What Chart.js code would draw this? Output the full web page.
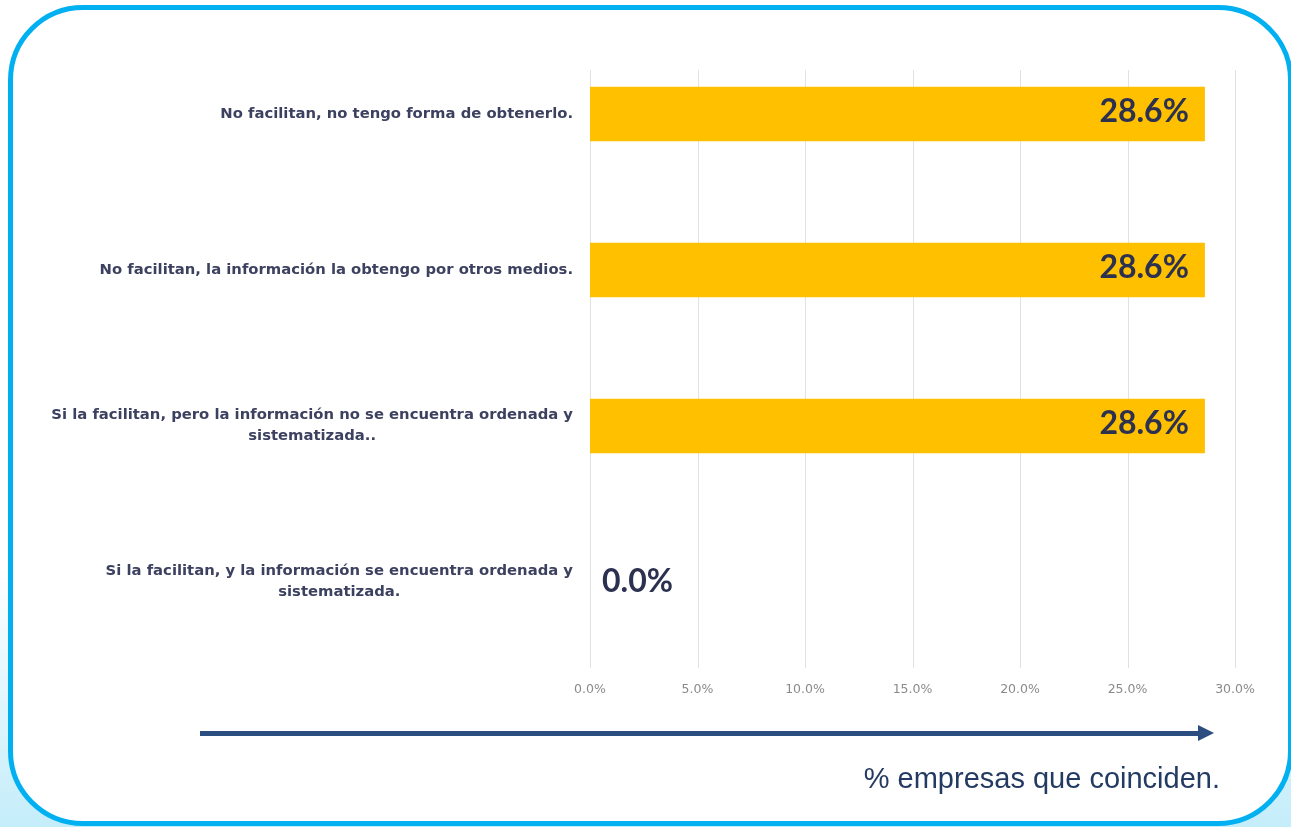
<!DOCTYPE html>
<html lang="es">
<head>
    <meta charset="UTF-8">
    <title>% empresas que coinciden</title>
    <script src="https://cdn.jsdelivr.net/npm/chart.js"></script>
    <style>
        body {
            margin: 0;
            width: 1291px;
            height: 827px;
            overflow: hidden;
            position: relative;
            background: linear-gradient(to bottom, #ffffff 0%, #ffffff 68%, #c4edfa 100%);
        }
        .box {
            position: absolute;
            left: 8px;
            top: 5px;
            width: 1285px;
            height: 821px;
            box-sizing: border-box;
            border: 5px solid #00b0f0;
            border-radius: 75px;
            background: #ffffff;
        }
        #chart {
            position: absolute;
            left: 0;
            top: 0;
        }
        .arrow {
            position: absolute;
            left: 200px;
            top: 731px;
            width: 998px;
            height: 5px;
            background: #2b4d80;
        }
        .arrow:after {
            content: '';
            position: absolute;
            left: 998px;
            top: -6px;
            border-left: 16px solid #2b4d80;
            border-top: 8.5px solid transparent;
            border-bottom: 8.5px solid transparent;
        }
        .caption {
            position: absolute;
            right: 71px;
            top: 764px;
            font: 29px/28px "Liberation Sans", Arial, sans-serif;
            color: #233b62;
        }
    </style>
</head>
<body>
    <div class="box"></div>
    <canvas id="chart" width="1291" height="827"></canvas>
    <div class="arrow"></div>
    <div class="caption">% empresas que coinciden.</div>
    <script>
        // categories (top to bottom) and the share of companies for each one
        const categories = [
            'No facilitan, no tengo forma de obtenerlo.',
            'No facilitan, la información la obtengo por otros medios.',
            ['Si la facilitan, pero la información no se encuentra ordenada y', 'sistematizada..'],
            ['Si la facilitan, y la información se encuentra ordenada y', 'sistematizada.']
        ];
        const percentValues = [28.6, 28.6, 28.6, 0.0];
        const axisMax = 30;
        const axisStep = 5;

        const gridTop = 70;
        const labelColor = '#3d4160';
        const valueColor = '#2c3150';

        // light vertical grid lines, starting a bit below the top of the plot
        const gridPlugin = {
            id: 'gridLines',
            beforeDatasetsDraw(chart) {
                const ctx = chart.ctx;
                const xScale = chart.scales.x;
                ctx.save();
                ctx.strokeStyle = '#e1e1e1';
                ctx.lineWidth = 1;
                xScale.ticks.forEach(t => {
                    const px = Math.round(xScale.getPixelForValue(t.value)) + 0.5;
                    ctx.beginPath();
                    ctx.moveTo(px, gridTop);
                    ctx.lineTo(px, chart.chartArea.bottom + 8);
                    ctx.stroke();
                });
                ctx.restore();
            }
        };

        // category labels: right aligned block, lines centred inside it
        const categoryPlugin = {
            id: 'categoryLabels',
            afterDraw(chart) {
                const ctx = chart.ctx;
                const yScale = chart.scales.y;
                ctx.save();
                ctx.font = 'bold 14.8px "DejaVu Sans", sans-serif';
                ctx.fillStyle = labelColor;
                ctx.textAlign = 'center';
                ctx.textBaseline = 'middle';
                categories.forEach((label, i) => {
                    const lines = Array.isArray(label) ? label : [label];
                    const w = Math.max(...lines.map(l => ctx.measureText(l).width));
                    const cx = yScale.right - 17 - w / 2;
                    const cy = yScale.getPixelForValue(i);
                    lines.forEach((line, j) => {
                        ctx.fillText(line, cx, cy + (j - (lines.length - 1) / 2) * 21);
                    });
                });
                ctx.restore();
            }
        };

        // value labels at the end of each bar
        const valuePlugin = {
            id: 'valueLabels',
            afterDatasetsDraw(chart) {
                const ctx = chart.ctx;
                const meta = chart.getDatasetMeta(0);
                ctx.save();
                ctx.font = 'bold 32px Lato, sans-serif';
                ctx.fillStyle = valueColor;
                ctx.textBaseline = 'middle';
                meta.data.forEach((bar, i) => {
                    const v = percentValues[i];
                    const txt = v.toFixed(1) + '%';
                    if (v > 0) {
                        ctx.textAlign = 'right';
                        ctx.fillText(txt, bar.x - 16, bar.y - 2);
                    } else {
                        ctx.textAlign = 'left';
                        ctx.fillText(txt, bar.x + 12, bar.y);
                    }
                });
                ctx.restore();
            }
        };

        new Chart(document.getElementById('chart'), {
            type: 'bar',
            data: {
                labels: categories,
                datasets: [{
                    data: percentValues,
                    backgroundColor: '#ffc000',
                    barPercentage: 0.35,
                    categoryPercentage: 1
                }]
            },
            options: {
                indexAxis: 'y',
                responsive: false,
                animation: false,
                devicePixelRatio: 1,
                layout: {
                    padding: { top: 36, right: 56, left: 0, bottom: 0 }
                },
                plugins: {
                    legend: { display: false },
                    tooltip: { enabled: false }
                },
                scales: {
                    x: {
                        min: 0,
                        max: axisMax,
                        grid: { display: false },
                        border: { display: false },
                        ticks: {
                            stepSize: axisStep,
                            padding: 14,
                            color: '#8a8a8a',
                            font: { family: '"DejaVu Sans"', size: 12.5 },
                            callback: v => v.toFixed(1) + '%'
                        },
                        afterFit: s => { s.height = 167; }
                    },
                    y: {
                        grid: { display: false },
                        border: { display: false },
                        ticks: { display: false },
                        afterFit: s => { s.width = 590; }
                    }
                }
            },
            plugins: [gridPlugin, categoryPlugin, valuePlugin]
        });
    </script>
</body>
</html>
